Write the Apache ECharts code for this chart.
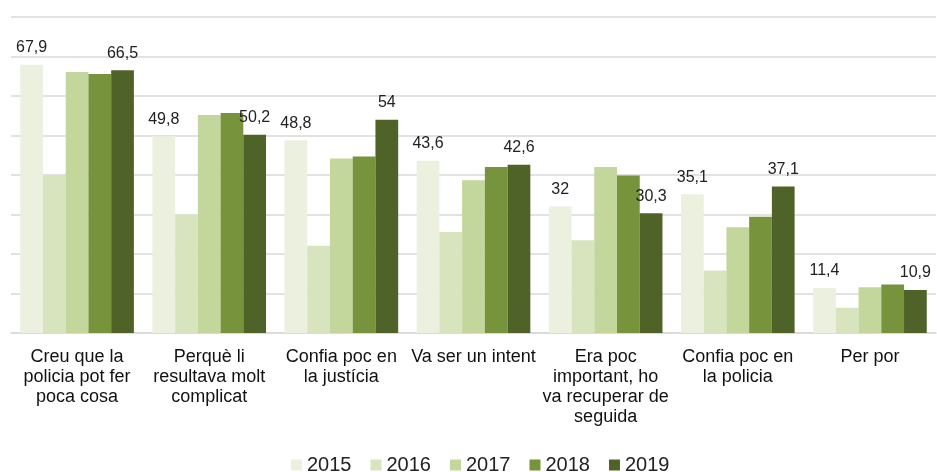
<!DOCTYPE html>
<html>
<head>
<meta charset="utf-8">
<script src="https://cdn.jsdelivr.net/npm/echarts@6/dist/echarts.min.js"></script>
<style>
  html, body { margin: 0; padding: 0; background: #fff; }
  #main { width: 937px; height: 472px; }
</style>
</head>
<body>
<div id="main"></div>
<script>
var categories = [
    'Creu que la\npolicia pot fer\npoca cosa',
    'Perquè li\nresultava molt\ncomplicat',
    'Confia poc en\nla justícia',
    'Va ser un intent',
    'Era poc\nimportant, ho\nva recuperar de\nseguida',
    'Confia poc en\nla policia',
    'Per por'
];

var years = ['2015', '2016', '2017', '2018', '2019'];

var data2015 = [67.9, 49.8, 48.8, 43.6, 32, 35.1, 11.4];
var data2016 = [40.0, 30.0, 22.1, 25.6, 23.5, 15.8, 6.4];
var data2017 = [66.1, 55.2, 44.2, 38.7, 42.0, 26.8, 11.6];
var data2018 = [65.6, 55.7, 44.7, 42.0, 39.9, 29.4, 12.3];
var data2019 = [66.5, 50.2, 54, 42.6, 30.3, 37.1, 10.9];

var colors = ['#EBF1DE', '#D7E4BD', '#C3D69B', '#77933C', '#4F6228'];

var myChart = echarts.init(document.getElementById('main'));

var allData = [data2015, data2016, data2017, data2018, data2019];

var series = [];
for (var i = 0; i < years.length; i++) {
    var showLabel = (i === 0 || i === 4);
    series.push({
        name: years[i],
        type: 'bar',
        data: allData[i],
        barGap: '0%',
        barCategoryGap: '14%',
        itemStyle: {
            color: colors[i]
        },
        label: {
            show: showLabel,
            position: 'top',
            distance: 9,
            fontSize: 16,
            fontFamily: 'Liberation Sans',
            color: '#222',
            formatter: function (p) {
                return String(p.value).replace('.', ',');
            }
        }
    });
}

var option = {
    animation: false,
    textStyle: {
        fontFamily: 'Liberation Sans'
    },
    grid: {
        left: 11,
        right: 1,
        top: 17,
        bottom: 139
    },
    legend: {
        data: years,
        left: 291,
        top: 455,
        padding: 0,
        icon: 'rect',
        itemWidth: 11,
        itemHeight: 11,
        itemGap: 19,
        textStyle: {
            fontSize: 20,
            lineHeight: 20,
            color: '#222',
            fontFamily: 'Liberation Sans'
        }
    },
    xAxis: {
        type: 'category',
        data: categories,
        axisLine: {
            show: true,
            lineStyle: { color: '#d9d9d9', width: 1.5 }
        },
        axisTick: { show: false },
        axisLabel: {
            interval: 0,
            margin: 14,
            fontSize: 18,
            lineHeight: 20,
            color: '#111',
            fontFamily: 'Liberation Sans',
            verticalAlign: 'top'
        }
    },
    yAxis: {
        type: 'value',
        min: 0,
        max: 80,
        interval: 10,
        axisLabel: { show: false },
        axisLine: { show: false },
        axisTick: { show: false },
        splitLine: {
            lineStyle: { color: '#d9d9d9', width: 1.5 }
        }
    },
    series: series
};

myChart.setOption(option);
</script>
</body>
</html>
